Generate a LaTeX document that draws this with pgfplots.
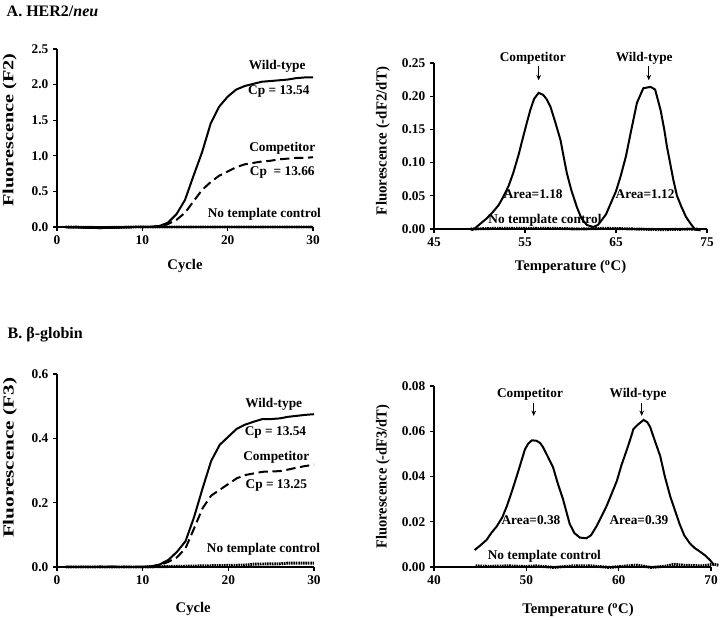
\documentclass[border=0pt]{standalone}
\usepackage{pgfplots}
\pgfplotsset{compat=1.18}
\usepackage{fontspec}
\setmainfont{Liberation Serif}
\usetikzlibrary{arrows.meta}
\tikzset{lab/.style={font=\fontsize{10}{12}\selectfont\bfseries, inner sep=1pt},
  arr/.style={-{Stealth[length=4pt,width=3.5pt]}, line width=0.9pt}}
\pgfplotsset{
  panel/.style={
    scale only axis, anchor=south west, clip=false,
    axis x line*=bottom, axis y line*=left,
    tick align=outside, major tick length=3pt,
    tick style={black, line width=0.8pt},
    axis line style={line width=0.9pt},
    scaled y ticks=false, scaled x ticks=false,
    /pgf/number format/assume math mode=true,
    ticklabel style={font=\fontsize{10}{12}\selectfont\bfseries},
    xlabel style={font=\fontsize{11}{13}\selectfont\bfseries, at={(axis description cs:0.5,-0.22)}, anchor=center},
    ylabel style={font=\fontsize{11.5}{13}\selectfont\bfseries, at={(axis description cs:-0.185,0.5)}, anchor=center, rotate=0},
  },
  dec1/.style={yticklabel style={/pgf/number format/fixed, /pgf/number format/fixed zerofill, /pgf/number format/precision=1}},
  dec2/.style={yticklabel style={/pgf/number format/fixed, /pgf/number format/fixed zerofill, /pgf/number format/precision=2}},
  wt/.style={black, line width=1.5pt},
  comp/.style={black, line width=1.5pt, dash pattern=on 7pt off 3.5pt},
  ntc/.style={black, line width=2.2pt, dash pattern=on 1.2pt off 0.6pt},
}
\begin{document}
\begin{tikzpicture}
\useasboundingbox (0,0) rectangle (540pt,465pt);
\node[anchor=west, font=\fontsize{12}{14}\selectfont\bfseries] at (1.5pt,456.75pt) {A. HER2/\textit{neu}};
\node[anchor=west, font=\fontsize{12}{14}\selectfont\bfseries] at (2.25pt,213.75pt) {B. β-globin};

% ---------- A left ----------
\begin{axis}[panel, dec1, at={(42.75pt,294.75pt)}, width=192pt, height=133.5pt,
  xmin=0, xmax=30, ymin=0, ymax=2.5, xtick={0,10,20,30}, ytick={0,0.5,1,1.5,2,2.5},
  ylabel style={at={(axis description cs:-0.185,0.545)}},
  xlabel={Cycle}, ylabel={\scalebox{1.32}[1]{Fluorescence (F2)}}]
\addplot[wt] coordinates {(1,0)(3,-0.01)(5,-0.015)(7,-0.01)(9,0)(10,0)(11,0.003)(12,0.015)(13,0.06)(14,0.18)(15,0.38)(16,0.72)(17,1.05)(18,1.45)(19,1.69)(20,1.83)(21,1.93)(22,1.98)(23,2.01)(24,2.04)(25,2.05)(26,2.06)(27,2.07)(28,2.09)(29,2.1)(30,2.1)};
\addplot[comp] coordinates {(1,0)(5,-0.008)(9,0)(11,0.002)(12,0.005)(13,0.04)(14,0.1)(15,0.2)(16,0.36)(17,0.52)(18,0.63)(19,0.72)(20,0.78)(21,0.84)(22,0.88)(23,0.9)(24,0.92)(25,0.93)(26,0.95)(27,0.96)(28,0.97)(29,0.97)(30,0.98)};
\addplot[ntc] coordinates {(1,0)(3,-0.004)(5,-0.008)(7,-0.006)(9,0)(15,0)(20,0)(25,0)(30,0)};
\node[lab] at (axis cs:25.8,2.26) {Wild-type};
\node[lab] at (axis cs:26.0,1.90) {Cp = 13.54};
\node[lab] at (axis cs:26.4,1.10) {Competitor};
\node[lab] at (axis cs:26.4,0.76) {Cp~~= 13.66};
\node[lab] at (axis cs:24.3,0.18) {No template control};
\end{axis}

% ---------- A right ----------
\begin{axis}[panel, dec2, at={(325.5pt,293.25pt)}, width=204.75pt, height=124.5pt,
  xmin=45, xmax=75, ymin=0, ymax=0.25, xtick={45,55,65,75}, ytick={0,0.05,0.1,0.15,0.2,0.25},
  xlabel style={at={(axis description cs:0.5,-0.23)}},
  ylabel style={at={(axis description cs:-0.187,0.53)}},
  xlabel={Temperature (\textsuperscript{o}C)}, ylabel={\scalebox{0.97}[1]{Fluorescence (-dF2/dT)}}]
\addplot[wt] coordinates {(49.1,-0.002)(49.5,0.001)(50.1,0.008)(50.8,0.016)(51.5,0.026)(52.1,0.036)(52.6,0.048)(53.2,0.065)(53.7,0.084)(54.3,0.112)(54.8,0.139)(55.2,0.16)(55.6,0.18)(56.0,0.196)(56.5,0.205)(57.0,0.202)(57.4,0.195)(57.8,0.184)(58.3,0.162)(58.9,0.134)(59.3,0.105)(59.6,0.084)(60.1,0.058)(60.7,0.033)(61.2,0.016)(61.8,0.006)(62.5,0.003)(63.0,0.006)(63.3,0.011)(63.9,0.022)(64.4,0.038)(65.0,0.057)(65.5,0.079)(66.1,0.11)(66.6,0.144)(67.3,0.19)(68.0,0.212)(68.8,0.214)(69.3,0.21)(69.9,0.179)(70.3,0.15)(70.6,0.124)(71.3,0.074)(71.7,0.05)(72.2,0.033)(72.7,0.018)(73.2,0.008)(73.7,-0.001)(74.3,-0.002)};
\addplot[ntc] coordinates {(49,0)(52,0.001)(55,0.001)(58,0.001)(61,0)(64,0.001)(67,0)(70,-0.001)(74,0)};
\node[lab] at (axis cs:55.85,0.2576) {Competitor};
\node[lab] at (axis cs:68.1,0.2576) {Wild-type};
\draw[arr] (axis cs:56.5,0.246) -- (axis cs:56.5,0.224);
\draw[arr] (axis cs:68.6,0.246) -- (axis cs:68.6,0.224);
\node[lab] at (axis cs:55.9,0.053) {Area=1.18};
\node[lab] at (axis cs:68.2,0.053) {Area=1.12};
\node[lab] at (axis cs:57.2,0.013) {No template control};
\end{axis}

% ---------- B left ----------
\begin{axis}[panel, dec1, at={(42.75pt,39.75pt)}, width=192.75pt, height=144.75pt,
  xmin=0, xmax=30, ymin=0, ymax=0.6, xtick={0,10,20,30}, ytick={0,0.2,0.4,0.6},
  xlabel style={at={(axis description cs:0.53,-0.22)}},
  ylabel style={at={(axis description cs:-0.183,0.565)}},
  xlabel={Cycle}, ylabel={\scalebox{1.38}[1]{Fluorescence (F3)}}]
\addplot[wt] coordinates {(1,0)(5,0)(10,0)(11,0.002)(12,0.008)(13,0.022)(14,0.047)(15,0.08)(16,0.155)(17,0.245)(18,0.33)(19,0.38)(20,0.405)(21,0.43)(22,0.443)(23,0.452)(24,0.46)(25,0.46)(26,0.462)(27,0.467)(28,0.47)(29,0.473)(30,0.475)};
\addplot[comp] coordinates {(1,0)(6,0.001)(10,0)(11,0.002)(12,0.006)(13,0.016)(14,0.03)(15,0.058)(16,0.12)(17,0.183)(18,0.222)(19,0.24)(20,0.258)(21,0.276)(22,0.286)(23,0.291)(24,0.296)(25,0.297)(26,0.298)(27,0.303)(28,0.309)(29,0.314)(30,0.318)};
\addplot[ntc] coordinates {(1,0)(10,0)(16,0.003)(20,0.005)(22,0.006)(23,0.009)(26,0.01)(27,0.012)(30,0.012)};
\node[lab] at (axis cs:25.3,0.507) {Wild-type};
\node[lab] at (axis cs:25.5,0.418) {Cp = 13.54};
\node[lab] at (axis cs:25.6,0.34) {Competitor};
\node[lab] at (axis cs:25.6,0.253) {Cp = 13.25};
\node[lab] at (axis cs:24.1,0.055) {No template control};
\end{axis}

% ---------- B right ----------
\begin{axis}[panel, dec2, at={(325.5pt,39.75pt)}, width=207.75pt, height=135.75pt,
  xmin=40, xmax=70, ymin=0, ymax=0.08, xtick={40,50,60,70}, ytick={0,0.02,0.04,0.06,0.08},
  xlabel style={at={(axis description cs:0.52,-0.24)}},
  ylabel style={at={(axis description cs:-0.184,0.5)}},
  xlabel={Temperature (\textsuperscript{o}C)}, ylabel={\scalebox{0.94}[1]{Fluorescence (-dF3/dT)}}]
\addplot[wt] coordinates {(44.4,0.0075)(45.0,0.0095)(45.7,0.012)(46.2,0.015)(46.8,0.018)(47.4,0.022)(47.9,0.027)(48.4,0.033)(48.95,0.040)(49.4,0.046)(49.85,0.052)(50.2,0.0545)(50.6,0.056)(51.1,0.0558)(51.5,0.0548)(51.8,0.053)(52.3,0.049)(52.9,0.044)(53.4,0.037)(53.97,0.030)(54.3,0.025)(54.7,0.019)(55.2,0.015)(55.8,0.013)(56.5,0.0127)(57.0,0.014)(57.6,0.018)(58.1,0.022)(58.7,0.027)(59.2,0.032)(59.8,0.038)(60.3,0.045)(60.9,0.052)(61.3,0.057)(61.6,0.061)(62.1,0.063)(62.7,0.065)(63.1,0.064)(63.4,0.062)(63.9,0.056)(64.5,0.049)(65.0,0.040)(65.6,0.031)(66.1,0.025)(66.6,0.019)(67.1,0.014)(67.7,0.0105)(68.2,0.0085)(68.8,0.0068)(69.4,0.005)(69.9,0.003)(70.3,0.001)};
\addplot[ntc] coordinates {(44.5,0.0005)(46,0.0003)(48,0.0005)(50,0.0002)(51,0.0005)(53,-0.0002)(55,0.0005)(57,0.0005)(59,-0.0002)(61,0.0005)(62,0.0008)(63.5,-0.0002)(65,0.0003)(66,0.0012)(67,0.0008)(69,0.0005)(70.3,0.0012)(70.8,0.0008)};
\node[lab] at (axis cs:50.4,0.0765) {Competitor};
\node[lab] at (axis cs:62.1,0.0765) {Wild-type};
\draw[arr] (axis cs:50.8,0.0725) -- (axis cs:50.8,0.0668);
\draw[arr] (axis cs:62.5,0.0725) -- (axis cs:62.5,0.0668);
\node[lab] at (axis cs:50.5,0.0208) {Area=0.38};
\node[lab] at (axis cs:62.2,0.0208) {Area=0.39};
\node[lab] at (axis cs:51.95,0.0046) {No template control};
\end{axis}
\end{tikzpicture}
\end{document}
